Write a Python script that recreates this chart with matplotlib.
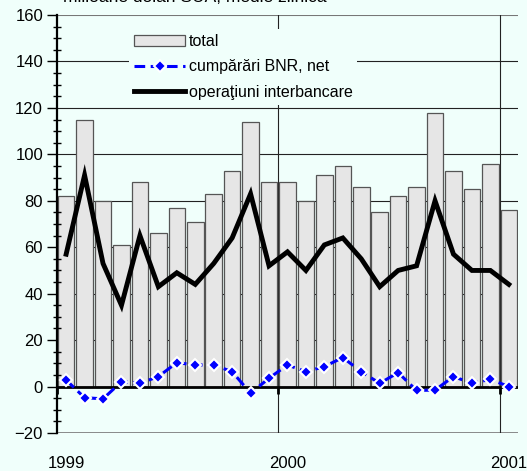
import matplotlib
matplotlib.use("Agg")
import matplotlib.pyplot as plt
import numpy as np

# date lunare ian 1999 - ian 2001
total = [82, 115, 80, 61, 88, 66, 77, 71, 83, 93, 114, 88,
         88, 80, 91, 95, 86, 75, 82, 86, 118, 93, 85, 96, 76]
bnr_net = [2.8, -4.8, -5.3, 2.1, 1.4, 4.3, 10.3, 9.3, 9.3, 6.4, -2.9, 3.6,
           9.3, 6.4, 8.6, 12.5, 6.4, 1.4, 6.0, -1.7, -1.5, 4.3, 1.4, 3.1, 0.0]
interbancar = [57, 91, 53, 35, 65, 43, 49, 44, 53, 64, 83, 52,
               58, 50, 61, 64, 55, 43, 50, 52, 80, 57, 50, 50, 44]
ani = ["1999", "2000", "2001"]
ani_poz = [0, 12, 24]
separatori = [-0.5, 11.5, 23.5]

bg = "#F0FFFB"
plt.rcParams["font.family"] = ["Liberation Sans", "DejaVu Sans"]
plt.rcParams["font.size"] = 11.5

fig = plt.figure(figsize=(5.27, 4.71), dpi=100, facecolor=bg)
ax = fig.add_axes([0.108, 0.0807, 0.875, 0.8874], facecolor=bg)

x = np.arange(len(total))

# grila
for v in range(-20, 161, 20):
    if v in (0, -20, 160):
        continue
    ax.axhline(v, color="#222222", lw=0.8, zorder=0)
ax.axhline(-20, color="#777777", lw=1.2, zorder=0)
ax.axhline(160, color="#777777", lw=1.5, zorder=0)
for s in separatori[1:]:
    ax.axvline(s, color="#222222", lw=0.8, zorder=0)

b = ax.bar(x, total, width=0.9, color="#E6E6E6", edgecolor="#555555",
           linewidth=0.9, zorder=1, label="total")
ax.axhline(0, color="black", lw=2, zorder=2)
l1, = ax.plot(x, bnr_net, color="#0000FF", lw=2.2, ls=(0, (3.5, 1.8)), marker="D",
              ms=6.5, mfc="#0000FF", mec="white", mew=1.5, zorder=3,
              label="cumpărări BNR, net")
l2, = ax.plot(x, interbancar, color="black", lw=3.5, zorder=4,
              solid_joinstyle="miter", label="operaţiuni interbancare")

ax.set_xlim(-0.5, 24.5)
ax.set_ylim(-20, 160)

# axa y
ax.set_yticks(range(-20, 161, 20))
ax.set_yticks(range(-20, 161, 5), minor=True)
ax.tick_params(axis="y", which="major", direction="out", length=7, width=1,
               labelsize=12, colors="black", pad=3)
ax.tick_params(axis="y", which="minor", direction="inout", length=6, width=1)

# axa x: liniuta la zero, etichete jos
ax.spines["bottom"].set_position(("data", 0))
ax.spines["bottom"].set_visible(False)
ax.set_xticks(separatori)
ax.set_xticklabels([])
ax.tick_params(axis="x", which="major", direction="out", length=5, width=2)
ax.set_xticks(ani_poz, minor=True)
ax.set_xticklabels(ani, minor=True)
ax.tick_params(axis="x", which="minor", length=0, pad=50, labelsize=12)

ax.spines["left"].set_linewidth(1.6)
ax.spines["top"].set_visible(False)
ax.spines["right"].set_visible(False)

leg = ax.legend([b, l1, l2], ["total", "cumpărări BNR, net", "operaţiuni interbancare"],
                loc="upper left", bbox_to_anchor=(0.14, 0.985),
                frameon=True, facecolor=bg, edgecolor="none", framealpha=1,
                handlelength=3.2, handletextpad=0.2, labelspacing=0.65,
                borderpad=0.3, fontsize=11.5)
leg.set_zorder(5)

fig.text(63 / 527, 1 - 2 / 471, "milioane dolari SUA, medie zilnică",
         fontsize=12.5, va="baseline", ha="left")

fig.savefig("out.png", dpi=100, facecolor=bg)
